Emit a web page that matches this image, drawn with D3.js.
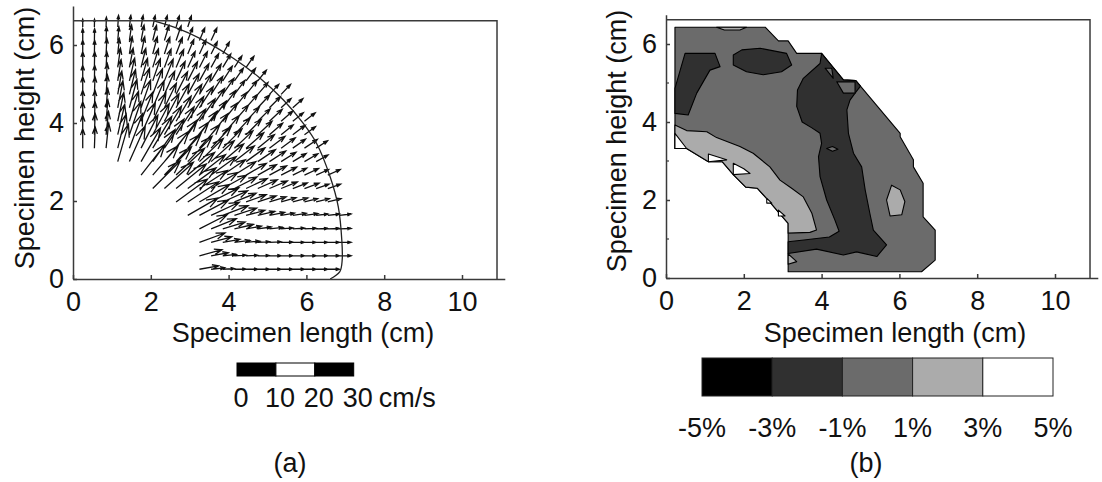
<!DOCTYPE html>
<html><head><meta charset="utf-8">
<script src="https://cdn.jsdelivr.net/npm/d3@7"></script>
<style>
body{margin:0;background:#fff;}
svg text{font-family:"Liberation Sans",Arial,sans-serif;fill:#111;}
</style></head><body>
<svg id="chart" width="1102" height="482"></svg>
<script>
// ---------- data ----------
const xTicks = [0, 2, 4, 6, 8, 10];
const yTicks = [0, 2, 4, 6];
const xLabel = "Specimen length (cm)";
const yLabel = "Specimen height (cm)";
const specimenBox = {width: 10.9, height: 6.62};

// quiver grid (cm)
const colX = [0.25,0.55,0.85,1.15,1.45,1.75,2.05,2.35,2.65,2.95,3.25,3.55,3.85,4.15,4.45,4.75,5.05,5.35,5.65,5.95,6.25,6.55,6.85];
const rowY = [0.25,0.595,0.94,1.285,1.63,1.975,2.32,2.665,3.01,3.355,3.70,4.045,4.39,4.735,5.08,5.425,5.77,6.115,6.46];
const rowStart = [10,10,10,10,9,8,6,5,3,0,0,0,0,0,0,0,0,0,0];
// speed (cm/s) per row, starting at rowStart column
const speed = [
 [5,3.5,3,3,3,3,3,3,3,3,3,3],
 [6,4.5,3.5,3,3,3,3,3,3,3,3,3,3],
 [7,5.5,4.5,4,3.5,3,3,3,3,3,3,3,3],
 [8,7,6,5,4,3.5,3.5,3,3,3,3,3,3],
 [9,8.5,8,7,6,5,4.5,4,3.5,3.5,3.5,3,3,3],
 [10,9.5,9,8,7,6,5.5,5,4.5,4,4,3.5,3.5,3.5],
 [10,10,10,9,8.5,8,7,6.5,6,5.5,5,4.5,4,4,3.5,3.5],
 [10,10,10,10,9,8.5,8,7,6.5,6,5.5,5,4.5,4,4,3.5,3.5],
 [10,10,10,10,10,9.5,9,8.5,8,7,6.5,6,5.5,5,4.5,4,4,3.5],
 [5,5.5,6.5,9,9.5,9.5,9.5,9,9,8.5,8,7.5,7,6.5,6,5.5,5,4.5,4,4,3.5],
 [5,5.5,6,8,9,9,9,8.5,8.5,8,7.5,7,6.5,6,5.5,5,4.5,4,4,3.5],
 [5,5,5.5,7.5,8,8,8,8,7.5,7.5,7,6.5,6,5.5,5,4.5,4.5,4,3.5,3.5],
 [4.5,4.5,5,7,7.5,7.5,7.5,7,7,7,6.5,6,5.5,5,4.5,4.5,4,3.5,3.5],
 [4.5,4.5,5,6,6.5,7,7,6.5,6.5,6,6,5.5,5,4.5,4.5,4,3.5,3.5],
 [4,4,4.5,5.5,6,6,6,6,5.5,5.5,5,5,4.5,4,4,3.5],
 [4,4,4,5,5,5,5,5,5,4.5,4.5,4,4,3.5,3.5],
 [3.5,3.5,4,4,4.5,4.5,4.5,4.5,4.5,4,4,3.5,3.5],
 [3,3,3.5,3.5,4,4,4,4,4,3.5,3.5,3.5],
 [2,2,2.5,3,3,3,3,3,3,3]
];
// direction (degrees from +x) per row
const angle = [
 [10,6,3,1,0,0,0,0,0,0,0,0],
 [15,10,6,3,2,1,0,0,0,0,0,0,0],
 [20,15,10,7,5,3,2,1,0,0,0,0,0],
 [27,22,17,13,10,8,6,5,4,3,2,2,2],
 [30,28,25,21,18,15,13,11,10,9,8,7,7,7],
 [36,33,30,27,24,22,20,18,17,16,15,14,14,14],
 [45,42,39,36,33,31,29,27,25,24,23,22,21,20,19,19],
 [52,49,46,43,40,38,36,34,32,30,29,28,27,26,25,24,24],
 [74,66,60,55,51,48,46,44,42,40,38,36,34,33,32,31,30,29],
 [90,88,84,76,69,63,59,56,53,51,49,47,45,43,41,39,37,36,35,34,33],
 [90,88,84,77,71,66,62,59,57,55,53,51,49,47,45,43,41,39,37,36],
 [90,88,85,78,73,68,65,62,59,57,55,53,51,49,47,45,43,41,39,38],
 [90,88,85,79,75,71,67,64,61,59,57,55,53,51,49,47,45,43,42],
 [90,88,86,80,76,72,69,66,63,61,59,57,55,53,51,49,47,46],
 [90,89,86,81,77,74,71,68,65,63,61,59,57,55,53,51],
 [90,89,87,82,79,76,73,70,67,65,63,61,59,57,55],
 [90,89,87,84,81,78,75,72,69,67,65,63,61],
 [90,89,88,85,82,79,76,73,71,69,67,65],
 [90,89,88,86,83,80,78,76,74,72]
];
const specimenEdge = [[2.08,6.62],[2.67,6.43],[3.26,6.17],[4.12,5.66],[4.81,5.15],[5.41,4.59],[5.92,3.99],[6.26,3.48],[6.61,2.62],[6.82,1.85],[6.91,1.0],[6.92,0.49],[6.86,0.19],[6.61,0.0]];
const scaleTicks = [0, 10, 20, 30];
const scaleUnit = "cm/s";

// strain contour bands (b)
const levels = [-5, -3, -1, 1, 3, 5];
const levelLabels = ["-5%", "-3%", "-1%", "1%", "3%", "5%"];
const levelColors = ["#000000", "#303030", "#6b6b6b", "#ababab", "#ffffff"];
const regionMid = [[0.23,6.43],[2.55,6.43],[2.89,6.08],[3.14,6.08],[3.36,5.76],[4.0,5.76],[4.56,5.08],[4.88,5.06],[6.02,3.71],[6.02,3.62],[6.36,3.03],[6.36,2.85],[6.61,2.43],[6.61,1.57],[6.92,1.23],[6.92,0.46],[6.57,0.16],[3.14,0.16],[3.14,1.4],[2.95,1.62],[2.65,1.97],[2.35,2.3],[2.05,2.33],[1.73,2.65],[1.45,2.98],[1.09,2.98],[0.53,3.32],[0.23,3.32]];
const regionLightLeft = [[0.23,3.92],[0.53,3.78],[1.05,3.75],[1.30,3.6],[1.90,3.37],[2.24,3.20],[2.67,2.85],[2.93,2.51],[3.23,2.30],[3.53,2.08],[3.75,1.66],[3.87,1.23],[3.70,1.17],[3.14,1.15],[3.14,1.4],[2.95,1.62],[2.65,1.97],[2.35,2.3],[2.05,2.33],[1.73,2.65],[1.45,2.98],[1.09,2.98],[0.53,3.32],[0.23,3.32]];
const regionLightIsland = [[5.67,2.0],[5.80,2.38],[6.02,2.26],[6.14,1.96],[6.06,1.62],[5.76,1.59]];
const regionLightTop = [[1.30,6.43],[1.5,6.36],[1.9,6.36],[2.07,6.43]];
const regionLightBottom = [[3.14,0.62],[3.36,0.42],[3.14,0.35]];
const regionWhite1 = [[0.23,3.71],[0.53,3.32],[0.23,3.32]];
const regionWhite2 = [[1.09,3.18],[1.56,3.03],[1.09,2.98]];
const regionWhite3 = [[1.73,2.94],[2.0,2.8],[2.16,2.68],[1.73,2.65]];
const regionWhite4 = [[2.59,2.04],[2.72,1.92],[2.59,1.92]];
const regionWhite5 = [[2.89,1.74],[3.06,1.59],[2.89,1.59]];
const regionDarkA = [[0.23,4.86],[0.49,5.76],[1.26,5.76],[1.39,5.42],[1.13,5.33],[0.79,4.74],[0.57,4.18],[0.23,4.22]];
const regionDarkB = [[1.73,5.72],[1.95,5.85],[2.42,5.89],[3.10,5.76],[3.23,5.46],[2.97,5.29],[2.50,5.21],[2.07,5.29],[1.73,5.46]];
const regionDarkBand = [[4.0,5.76],[3.96,5.5],[3.53,5.12],[3.38,4.82],[3.36,4.4],[3.5,4.0],[3.75,3.85],[3.96,3.71],[4.0,3.45],[3.92,3.11],[3.96,2.60],[4.13,2.0],[4.34,1.49],[4.45,1.2],[4.2,1.05],[3.6,0.98],[3.14,0.93],[3.14,0.63],[3.87,0.74],[4.56,0.59],[4.90,0.67],[5.42,0.55],[5.67,0.85],[5.33,1.23],[5.24,1.66],[5.12,2.26],[5.03,2.85],[4.82,3.2],[4.69,3.71],[4.65,4.31],[4.73,4.56],[4.86,4.74],[5.0,4.92],[4.88,5.06],[4.56,5.08]];
const regionMidTri = [[4.09,5.38],[4.26,5.38],[4.30,5.12]];
const regionMidTrap = [[4.39,5.03],[4.86,5.03],[4.86,4.74],[4.56,4.74]];
const regionMidLens = [[4.13,3.32],[4.28,3.37],[4.42,3.3],[4.28,3.25]];

const panelLabels = ["(a)", "(b)"];

// ---------- drawing ----------
const svg = d3.select("#chart");
const FONT = 27;
const pxPerCm = 38.9, pyPerCm = 39;

function panel(x0, y0, yTop) {
  const x = d3.scaleLinear().domain([0, 11.1]).range([x0, x0 + 11.1 * pxPerCm]);
  const y = d3.scaleLinear().domain([0, yTop]).range([y0, y0 - yTop * pyPerCm]);
  return {x, y};
}
function drawAxes(g, s, labelCx, ylabX, ylabCy) {
  const ax = g.append("g").attr("transform", `translate(0,${s.y(0)})`)
    .call(d3.axisBottom(s.x).tickValues(xTicks).tickFormat(d3.format("d")).tickSize(-4).tickSizeOuter(0).tickPadding(13));
  const ay = g.append("g").attr("transform", `translate(${s.x(0)},0)`)
    .call(d3.axisLeft(s.y).tickValues(yTicks).tickFormat(d3.format("d")).tickSize(-4).tickSizeOuter(0).tickPadding(9));
  [ax, ay].forEach(a => {
    a.selectAll("path,line").attr("stroke", "#3a3a3a").attr("stroke-width", 1.5);
    a.selectAll("text").attr("font-size", FONT).attr("fill", "#111")
      .attr("font-family", "'Liberation Sans',Arial,sans-serif");
  });
  g.append("path")
    .attr("d", `M${s.x(0)},${s.y(specimenBox.height)}H${s.x(specimenBox.width)}V${s.y(0)}`)
    .attr("fill", "none").attr("stroke", "#3a3a3a").attr("stroke-width", 1.5);
  g.append("text").attr("x", labelCx).attr("y", 342).attr("text-anchor", "middle")
    .attr("font-size", FONT).text(xLabel);
  g.append("text").attr("transform", `translate(${ylabX},${ylabCy}) rotate(-90)`)
    .attr("text-anchor", "middle").attr("font-size", FONT).text(yLabel);
}

// ---- panel (a): velocity field ----
const sa = panel(73, 279, 7.0);
const ga = svg.append("g");
const alpha = 0.33, beta = 0.35;
const arrows = [];
speed.forEach((row, i) => {
  row.forEach((sp, k) => {
    const j = rowStart[i] + k;
    arrows.push({x: colX[j], y: rowY[i], s: sp, a: angle[i][k]});
  });
});
const qpath = d3.path();
arrows.forEach(d => {
  const L = d.s / 10; // 10 cm/s = 1 cm
  const u = L * Math.cos(d.a * Math.PI / 180), v = L * Math.sin(d.a * Math.PI / 180);
  const tx = d.x + u, ty = d.y + v;
  const h1x = tx - alpha * (u + beta * v), h1y = ty - alpha * (v - beta * u);
  const h2x = tx - alpha * (u - beta * v), h2y = ty - alpha * (v + beta * u);
  qpath.moveTo(sa.x(d.x), sa.y(d.y)); qpath.lineTo(sa.x(tx), sa.y(ty));
  qpath.moveTo(sa.x(h1x), sa.y(h1y)); qpath.lineTo(sa.x(tx), sa.y(ty)); qpath.lineTo(sa.x(h2x), sa.y(h2y));
});
ga.append("path").attr("d", qpath.toString()).attr("fill", "none")
  .attr("stroke", "#111").attr("stroke-width", 1.3).attr("stroke-linejoin", "miter");
ga.append("path").datum(specimenEdge)
  .attr("d", d3.line().x(d => sa.x(d[0])).y(d => sa.y(d[1])).curve(d3.curveCatmullRom))
  .attr("fill", "none").attr("stroke", "#222").attr("stroke-width", 1.3);
drawAxes(ga, sa, 303, 34, 138);

// velocity scale bar
const sbLeft = 237, sbTop = 363, sbH = 13;
const sbW = v => sa.x(v / 10) - sa.x(0);
const sb = svg.append("g");
d3.pairs(scaleTicks).forEach(([a, b], i) => {
  sb.append("rect").attr("x", sbLeft + sbW(a)).attr("y", sbTop).attr("width", sbW(b) - sbW(a)).attr("height", sbH)
    .attr("fill", i % 2 === 0 ? "#000" : "#fff").attr("stroke", "#000").attr("stroke-width", 1);
});
scaleTicks.forEach(t => {
  sb.append("text").attr("x", sbLeft + sbW(t) + 4).attr("y", 407).attr("text-anchor", "middle")
    .attr("font-size", FONT).text(t);
});
sb.append("text").attr("x", sbLeft + sbW(30) + 25).attr("y", 407).attr("font-size", FONT).text(scaleUnit);

// ---- panel (b): strain contour ----
const sbx = panel(666, 278, 6.75);
const gb = svg.append("g");
const line = d3.line().x(d => sbx.x(d[0])).y(d => sbx.y(d[1])).curve(d3.curveLinearClosed);
const regions = [
  [regionMid, 2], [regionLightLeft, 3], [regionLightIsland, 3], [regionLightTop, 3], [regionLightBottom, 3],
  [regionWhite1, 4], [regionWhite2, 4], [regionWhite3, 4], [regionWhite4, 4], [regionWhite5, 4],
  [regionDarkA, 1], [regionDarkB, 1], [regionDarkBand, 1],
  [regionMidTri, 2], [regionMidTrap, 2], [regionMidLens, 2]
];
regions.forEach(([poly, lv]) => {
  gb.append("path").attr("d", line(poly)).attr("fill", levelColors[lv])
    .attr("stroke", "#000").attr("stroke-width", 1.1).attr("stroke-linejoin", "round");
});
drawAxes(gb, sbx, 895, 626, 141);
gb.selectAll(".minor").data([1, 3, 5]).enter().append("line")
  .attr("x1", sbx.x(0)).attr("x2", sbx.x(0) + 3).attr("y1", d => sbx.y(d)).attr("y2", d => sbx.y(d))
  .attr("stroke", "#3a3a3a").attr("stroke-width", 1.2);

// colour bar
const cb = d3.scaleLinear().domain([levels[0], levels[levels.length - 1]]).range([702, 1053]);
const gc = svg.append("g");
d3.pairs(levels).forEach(([a, b], i) => {
  gc.append("rect").attr("x", cb(a)).attr("y", 358).attr("width", cb(b) - cb(a)).attr("height", 38)
    .attr("fill", levelColors[i]).attr("stroke", "#222").attr("stroke-width", 1);
});
levels.forEach((l, i) => {
  gc.append("text").attr("x", cb(l)).attr("y", 437).attr("text-anchor", "middle")
    .attr("font-size", FONT).text(levelLabels[i]);
});

// panel captions
svg.append("text").attr("x", 290).attr("y", 472).attr("text-anchor", "middle").attr("font-size", FONT).text(panelLabels[0]);
svg.append("text").attr("x", 866).attr("y", 472).attr("text-anchor", "middle").attr("font-size", FONT).text(panelLabels[1]);
</script>
</body></html>
